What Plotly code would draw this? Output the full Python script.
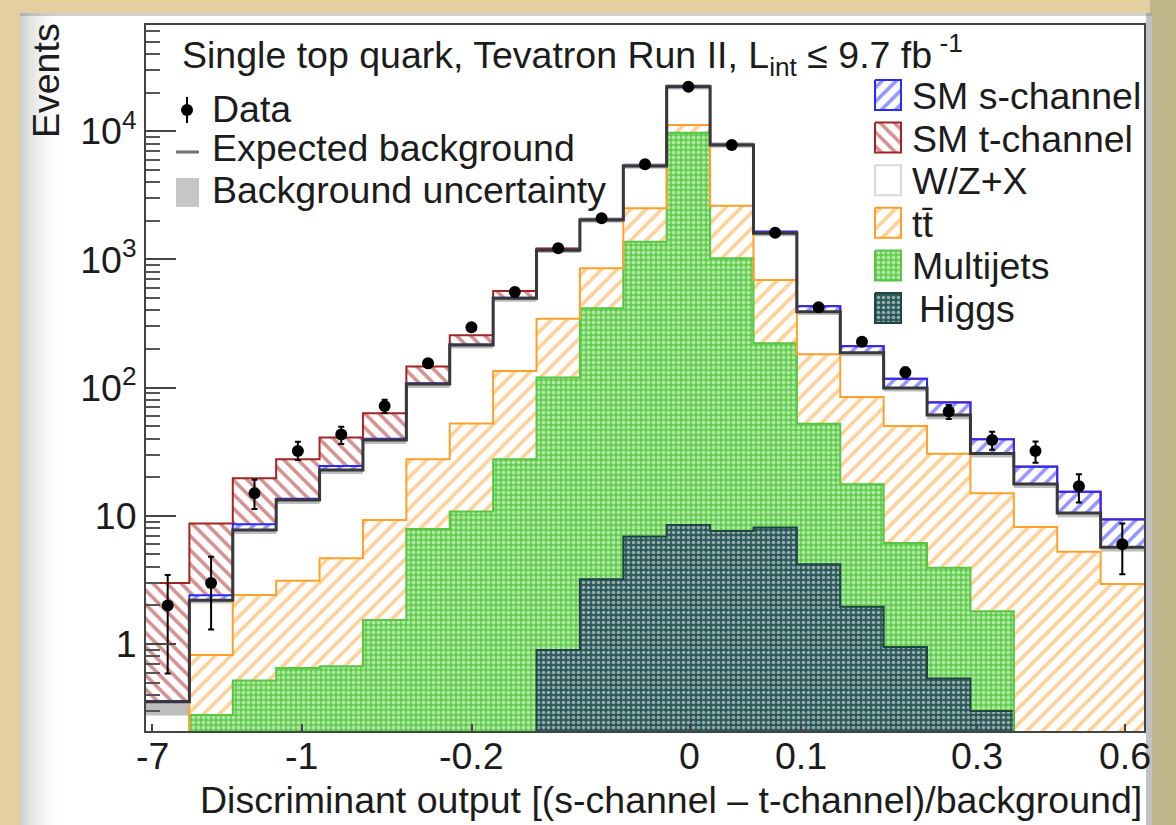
import numpy as np
import plotly.graph_objects as go

# ---------------------------------------------------------------------------
# Histogram contents: 23 bins of the discriminant, left to right
# ---------------------------------------------------------------------------
n_bins = 23
higgs = [0, 0, 0, 0, 0, 0, 0, 0, 0, 0.9, 3.2, 6.9, 8.5, 7.6, 8.1, 4.2, 1.95,
         0.95, 0.54, 0.30, 0, 0, 0]
multijets = [0, 0.28, 0.52, 0.65, 0.67, 1.54, 7.9, 10.8, 27.6, 119, 412, 1367,
             9730, 1012, 214, 48, 15.7, 5.2, 3.4, 1.5, 0, 0, 0]
ttbar = [0, 0.54, 1.89, 2.47, 3.99, 7.76, 19.7, 41.8, 107, 225, 437, 1131,
         1430, 1605, 469, 130, 67, 44, 26.6, 13.2, 8.2, 5.25, 2.94]
wzx = [0.355, 1.38, 5.34, 10.2, 18.1, 29.7, 79, 162, 362, 835, 1177, 2845,
       11080, 5175, 906, 209, 102, 49, 30.5, 15.7, 9.5, 5.25, 2.74]
s_channel = [0.005, 0.2, 0.85, 0.3, 1.7, 1.0, 1.5, 2, 5, 8, 11, 20, 50, 30,
             43, 39, 24, 18, 15.5, 8.8, 6.5, 4.9, 3.7]
t_channel = [2.64, 6.3, 11, 14, 16.4, 23, 38, 40, 65, 30, 10, 10, 50, 20, 5,
             2, 0.5, 0.3, 0.2, 0.1, 0.05, 0.03, 0.02]
bkg_unc = [0.22, 0.06, 0.07, 0.07, 0.07, 0.07, 0.07, 0.06, 0.06, 0.05, 0.05,
           0.05, 0.05, 0.05, 0.05, 0.06, 0.06, 0.06, 0.07, 0.07, 0.07, 0.07, 0.07]
data = [2, 3, 15, 32, 43, 72, 155, 296, 557, 1220, 2090, 5520, 22200, 7800,
        1615, 423, 228, 132, 65, 39, 32, 17, 6]
data_err_up = [1.45, 1.8, 4.1, 5.9, 6.6, 8.5, 12.4, 17.2, 23.6, 34.9, 45.7,
               74.3, 149, 88.3, 40.2, 20.6, 15.1, 11.5, 8.1, 6.2, 6.0, 4.1, 2.7]
data_err_dn = [1.41, 1.7, 3.7, 4.7, 6.6, 8.5, 12.4, 17.2, 23.6, 34.9, 45.7,
               74.3, 149, 88.3, 40.2, 20.6, 15.1, 11.5, 8.1, 6.2, 6.0, 4.3, 2.5]

# x axis: bin-index scale with the discriminant values as labels
tick_labels = ["-7", "-1", "-0.2", "0", "0.1", "0.3", "0.6"]
tick_pos = [0.14, 3.59, 7.51, 12.53, 15.09, 19.15, 22.56]

# ---------------------------------------------------------------------------
FONT = "Liberation Sans, Arial, Helvetica, sans-serif"
TXT = "#1c1c1c"
FS = 37.5
W, H = 1176, 825
L, R, T, B = 146, 1144, 25, 731          # plot frame in pixels
FLOOR = 1e-3                              # below the visible y range

edges = np.arange(n_bins + 1)
centers = edges[:-1] + 0.5


def step_path(vals):
    v = np.maximum(np.asarray(vals, float), FLOOR)
    return np.repeat(edges, 2)[1:-1], np.repeat(v, 2)


def band(lo, hi):
    xl, yl = step_path(lo)
    xh, yh = step_path(hi)
    return np.concatenate([xh, xl[::-1]]), np.concatenate([yh, yl[::-1]])


# cumulative stack, bottom to top
c_h = np.array(higgs, float)
c_mj = c_h + multijets
c_tt = c_mj + ttbar
c_bkg = c_tt + wzx
c_s = c_bkg + s_channel
c_t = c_s + t_channel
unc = np.array(bkg_unc)

styles = {
    "higgs": dict(shape=".", fgcolor="#ffffff", bgcolor="#2b5858", size=5, solidity=0.4),
    "mj": dict(shape=".", fgcolor="#ffffff", bgcolor="#5fcd4a", size=5, solidity=0.45),
    "tt": dict(shape="/", fgcolor="#ffa234", bgcolor="#ffffff", size=11, solidity=0.33),
    "s": dict(shape="/", fgcolor="#2c2cff", bgcolor="#ffffff", size=10, solidity=0.36),
    "t": dict(shape="\\", fgcolor="#a82424", bgcolor="#ffffff", size=10, solidity=0.36),
}
edge_col = {"higgs": "#1f4444", "mj": "#58c642", "tt": "#ffa02c",
            "s": "#2a2aff", "t": "#a42424"}

fig = go.Figure()


def add_fill(lo, hi, key=None, color="#ffffff"):
    x, y = band(lo, hi)
    kw = dict(fillcolor=color)
    if key:
        kw = dict(fillcolor=styles[key]["bgcolor"], fillpattern=styles[key])
    fig.add_trace(go.Scatter(x=x, y=y, fill="toself", mode="none",
                             hoverinfo="skip", showlegend=False, **kw))


def add_edge(vals, color, width=2):
    x, y = step_path(vals)
    fig.add_trace(go.Scatter(x=x, y=y, mode="lines",
                             line=dict(color=color, width=width),
                             hoverinfo="skip", showlegend=False))


zero = np.zeros(n_bins)
add_fill(zero, c_h, "higgs")
add_fill(c_h, c_mj, "mj")
add_fill(c_mj, c_tt, "tt")
add_fill(c_tt, c_bkg, None, "#ffffff")
add_fill(c_bkg * (1 - unc), c_bkg * (1 + unc), None, "#bdbdbd")
add_fill(c_bkg, c_s, "s")
add_fill(c_s, c_t, "t")

add_edge(c_h, edge_col["higgs"])
add_edge(c_mj, edge_col["mj"])
add_edge(c_tt, edge_col["tt"])
add_edge(c_t, edge_col["t"])
add_edge(c_s, edge_col["s"])
add_edge(c_bkg, "#383838", 3)

fig.add_trace(go.Scatter(
    x=centers, y=data, mode="markers",
    marker=dict(color="black", size=12),
    error_y=dict(type="data", symmetric=False, array=data_err_up,
                 arrayminus=data_err_dn, color="black", thickness=2, width=3),
    showlegend=False, hoverinfo="skip"))

# ---------------------------------------------------------------------------
# Legend, drawn on a pixel-scaled overlay axis
# ---------------------------------------------------------------------------
def box(x0, x1, y0, y1):
    return [x0, x1, x1, x0, x0], [y0, y0, y1, y1, y0]


legend_rows = [("SM s-channel", "s", 95), ("SM t-channel", "t", 137.6),
               ("W/Z+X", None, 180.2), ("t\u0074\u0304", "tt", 222.8),
               ("Multijets", "mj", 265.4), ("Higgs", "higgs", 308)]
for label, key, yc in legend_rows:
    bx, by = box(875, 901, yc - 15, yc + 15)
    if key:
        kw = dict(fillcolor=styles[key]["bgcolor"], fillpattern=styles[key])
        lc = edge_col[key]
    else:
        kw = dict(fillcolor="#ffffff")
        lc = "#d8d8d8"
    fig.add_trace(go.Scatter(x=bx, y=by, fill="toself", mode="lines",
                             line=dict(color=lc, width=2), xaxis="x2", yaxis="y2",
                             hoverinfo="skip", showlegend=False, **kw))

# Data / expected background / uncertainty entries
fig.add_trace(go.Scatter(x=[187, 187], y=[97, 123], mode="lines",
                         line=dict(color="black", width=2), xaxis="x2", yaxis="y2",
                         hoverinfo="skip", showlegend=False))
fig.add_trace(go.Scatter(x=[187], y=[110], mode="markers",
                         marker=dict(color="black", size=12), xaxis="x2", yaxis="y2",
                         hoverinfo="skip", showlegend=False))
fig.add_trace(go.Scatter(x=[176, 199], y=[152, 152], mode="lines",
                         line=dict(color="#6e6e6e", width=3), xaxis="x2", yaxis="y2",
                         hoverinfo="skip", showlegend=False))
bx, by = box(176, 199, 178, 207)
fig.add_trace(go.Scatter(x=bx, y=by, fill="toself", mode="none", fillcolor="#c6c6c6",
                         xaxis="x2", yaxis="y2", hoverinfo="skip", showlegend=False))


# ---------------------------------------------------------------------------
def px(x):
    return (x - L) / (R - L)


def py(y):
    return (B - y) / (B - T)


annotations = []


def ann(text, x, y, xanchor="left", yanchor="middle", size=FS, angle=0, **extra):
    annotations.append(dict(text=text, x=px(x), y=py(y), xref="paper", yref="paper",
                            xanchor=xanchor, yanchor=yanchor, showarrow=False,
                            textangle=angle, font=dict(family=FONT, size=size, color=TXT),
                            **extra))


ann("Single top quark, Tevatron Run II, L<sub>int</sub> \u2264 9.7 fb<sup> -1</sup>", 180, 55)
ann("Data", 210, 109)
ann("Expected background", 210, 148)
ann("Background uncertainty", 210, 190)
for label, key, yc in legend_rows:
    ann(label, 917 if label == "Higgs" else 910, yc + 1)
ann("Events", 46, 81, xanchor="center", angle=-90)
ann("Discriminant output [(s-channel \u2013 t-channel)/background]", 1144, 824,
    xanchor="right", yanchor="bottom", height=44, valign="middle")

# x tick labels placed on the bin-index scale
for lab, pos in zip(tick_labels, tick_pos):
    annotations.append(dict(text=lab, x=pos, y=py(756), xref="x", yref="paper",
                            xanchor="center", yanchor="middle", showarrow=False,
                            height=38, valign="middle",
                            font=dict(family=FONT, size=FS, color=TXT)))

# Page background: parchment with a white card
shapes = []


def rect(x0, x1, y0, y1, color, layer="below"):
    shapes.append(dict(type="rect", xref="paper", yref="paper",
                       x0=px(x0), x1=px(x1), y0=py(y1), y1=py(y0),
                       fillcolor=color, line=dict(width=0), layer=layer))


rect(1150, W + 5, -5, H + 5, "#bdb689")
rect(20, 1152, 13, H + 10, "#ffffff")
for i in range(12):
    a = 0.28 * (1 - i / 12) ** 2
    rect(20 + i * 3.5, 23.5 + i * 3.5, 13, H + 10, f"rgba(90,90,90,{a:.3f})")
rect(20, 1152, 13, 16, "rgba(120,120,120,0.35)")
rect(1146, 1152, 13, H + 10, "rgba(120,120,120,0.45)")

minor_vals = [m * 10.0 ** e for e in range(-1, 5) for m in range(2, 10)]

fig.update_layout(
    width=W, height=H,
    margin=dict(l=L, r=W - R, t=T, b=H - B, pad=0),
    paper_bgcolor="#e3cf9f",
    plot_bgcolor="rgba(0,0,0,0)",
    showlegend=False,
    annotations=annotations,
    shapes=shapes,
    xaxis=dict(range=[0, n_bins], tickmode="array", tickvals=tick_pos,
               showticklabels=False, ticks="inside", ticklen=7, tickwidth=2,
               tickcolor="#444", showline=True, mirror=True, linecolor="#444",
               linewidth=2, showgrid=False, zeroline=False),
    yaxis=dict(type="log", range=[-0.678, 4.828], tickmode="array",
               tickvals=[1, 10, 100, 1000, 10000],
               ticktext=["1", "10", "10<sup>2</sup>", "10<sup>3</sup>", "10<sup>4</sup>"],
               ticks="inside", ticklen=30, tickwidth=2, tickcolor="#444",
               minor=dict(tickvals=minor_vals, ticks="inside", ticklen=14,
                          tickwidth=1.5, tickcolor="#555"),
               showline=True, mirror=True, linecolor="#444", linewidth=2,
               showgrid=False, zeroline=False,
               tickfont=dict(family=FONT, size=FS, color=TXT)),
    xaxis2=dict(overlaying="x", anchor="y2", range=[L, R], visible=False),
    yaxis2=dict(overlaying="y", anchor="x2", range=[B, T], visible=False),
)

fig.write_html("out.html")
